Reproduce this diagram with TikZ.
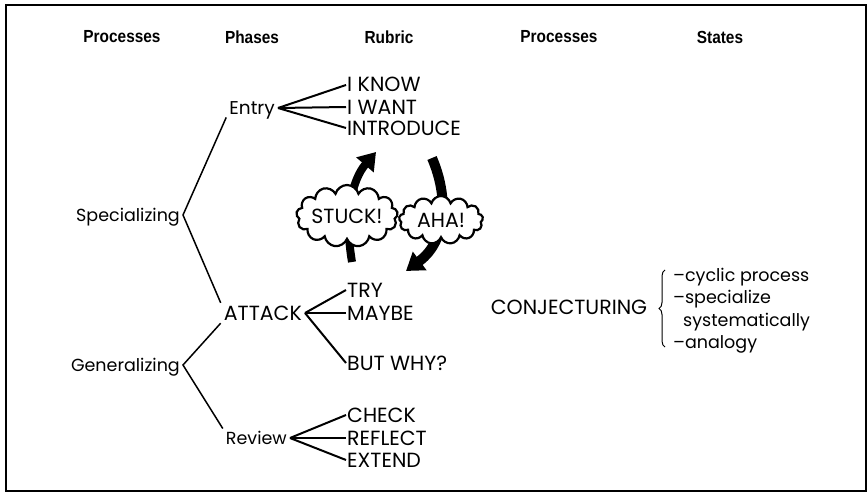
\documentclass[tikz,border=0pt]{standalone}
\usepackage{fontspec}
\setmainfont{Poppins}
\newfontfamily\headfont[FakeStretch=0.88]{Liberation Sans}
\usetikzlibrary{shapes.symbols, arrows.meta, decorations.pathreplacing}

\begin{document}
\begin{tikzpicture}[x=1pt, y=-1pt,
  head/.style={font=\headfont\bfseries\fontsize{17.5}{20}\selectfont},
  lbl/.style={font=\fontsize{17.5}{20}\selectfont, inner sep=3pt, text height=12.5pt, text depth=0pt},
  caps/.style={font=\fontsize{20.5}{24}\selectfont, text height=14pt},
  item/.style={lbl, anchor=west, inner sep=1pt},
  fan/.style={line width=2pt},
  branch/.style={line width=1.5pt},
  bubble/.style={cloud, cloud puffs=13, cloud ignores aspect, draw, fill=white, line width=2.2pt, inner sep=0pt, font=\fontsize{20.5}{24}\selectfont},
  bigarrow/.style={line width=8pt, -{Triangle[length=17pt, width=22pt]}}
]
  \useasboundingbox (0,0) rectangle (867,495);
  \draw[line width=1.2pt] (6,5) rectangle (866,491);

  \node[head] (hproc) at (122,37) {Processes};
  \node[head] (hphase) at (252,37) {Phases};
  \node[head] (hrubric) at (389,37) {Rubric};
  \node[head] (hproc2) at (559,37) {Processes};
  \node[head] (hstates) at (720,37) {States};

  \node[lbl, anchor=east] (spec) at (183,215) {Specializing};
  \node[lbl, anchor=east] (gen) at (183,365) {Generalizing};
  \node[lbl, anchor=east, font=\fontsize{18.5}{22}\selectfont] (entry) at (278,108) {Entry};
  \node[lbl, caps, anchor=east] (attack) at (305,313) {ATTACK};
  \node[lbl, anchor=east] (review) at (290,438) {Review};

  \node[item, caps] (iknow) at (346,85) {I KNOW};
  \node[item, caps] (iwant) at (346,107) {I WANT};
  \node[item, caps] (introduce) at (346,128) {INTRODUCE};
  \node[item, caps] (try) at (346,290) {TRY};
  \node[item, caps] (maybe) at (346,313) {MAYBE};
  \node[item, caps] (butwhy) at (346,363) {BUT WHY?};
  \node[item, caps] (check) at (346,415) {CHECK};
  \node[item, caps] (reflect) at (346,438) {REFLECT};
  \node[item, caps] (extend) at (346,460) {EXTEND};

  \foreach \t in {iknow, iwant, introduce}
    \draw[fan] (entry.east) -- (\t.west);
  \foreach \t in {try, maybe, butwhy}
    \draw[fan] (attack.east) -- (\t.west);
  \foreach \t in {check, reflect, extend}
    \draw[fan] (review.east) -- (\t.west);

  \draw[branch] (entry.south west) -- (spec.east) -- (attack.north west);
  \draw[branch] (attack.south west) -- (gen.east) -- (review.north west);

  \coordinate (stucktail) at (352,262);
  \coordinate (stuckhead) at (376,152);
  \coordinate (ahatail) at (432,158);
  \coordinate (ahahead) at (406,271);
  \draw[bigarrow] (stucktail) .. controls (344,215) and (352,180) .. (stuckhead);
  \draw[bigarrow, line width=10pt] (ahatail) .. controls (448,195) and (448,240) .. (ahahead);

  \node[bubble, minimum width=100pt, minimum height=62pt] (stuck) at (347,216) {STUCK!};
  \node[bubble, minimum width=84pt, minimum height=48pt] (aha) at (441,220) {AHA!};

  \node[lbl, caps] (conj) at (569,307) {CONJECTURING};
  \coordinate (bracetop) at (665,270);
  \coordinate (bracebot) at (665,347);
  \draw[decorate, decoration={brace, amplitude=6pt}, line width=1pt] (bracebot) -- (bracetop);

  \node[item] (cyclic) at (672,275) {--cyclic process};
  \node[item] (specsys) at (672,297) {--specialize};
  \node[item] (syst) at (682,320) {systematically};
  \node[item] (analogy) at (672,342) {--analogy};
\end{tikzpicture}
\end{document}
